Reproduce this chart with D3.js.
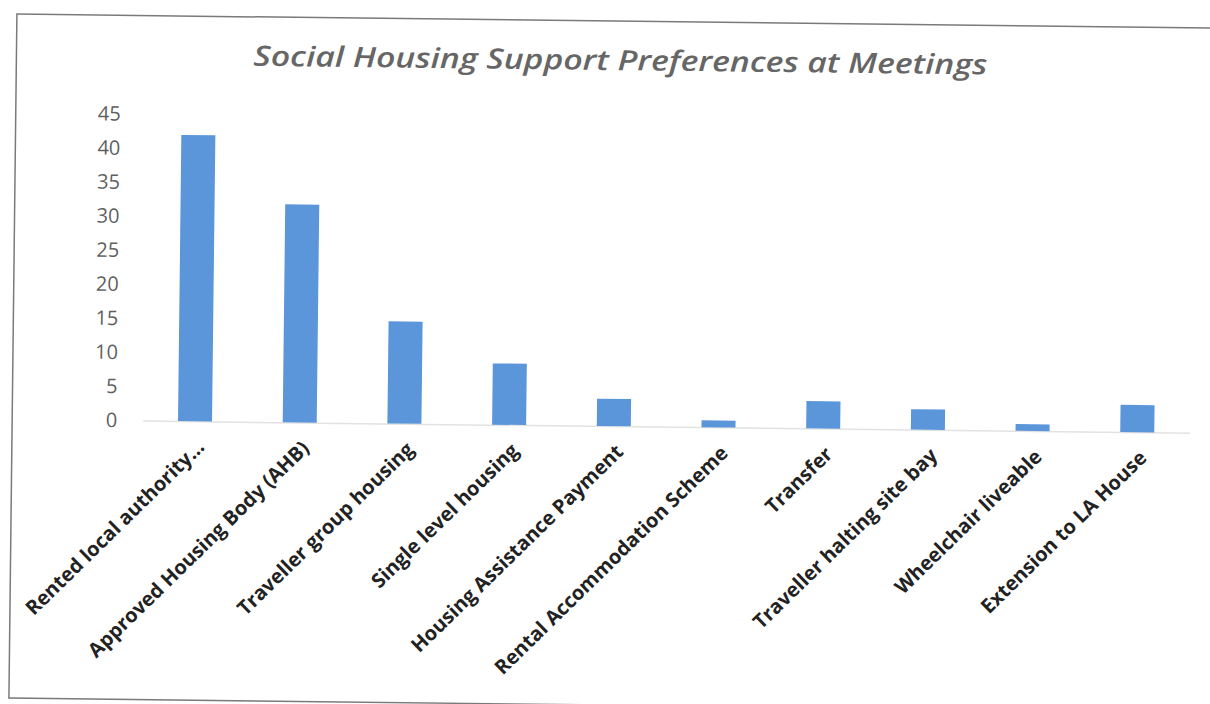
<!DOCTYPE html>
<html>
<head>
<meta charset="utf-8">
<script src="https://cdn.jsdelivr.net/npm/d3@7"></script>
<style>
  body { margin: 0; background: #fff; }
</style>
</head>
<body>
<div id="chart"></div>
<script>
const categories = ["Rented local authority...", "Approved Housing Body (AHB)", "Traveller group housing",
  "Single level housing", "Housing Assistance Payment", "Rental Accommodation Scheme", "Transfer",
  "Traveller halting site bay", "Wheelchair liveable", "Extension to LA House"];
const values = [42, 32, 15, 9, 4, 1, 4, 3, 1, 4];
const yTicks = [0, 5, 10, 15, 20, 25, 30, 35, 40, 45];
const chartTitle = "Social Housing Support Preferences at Meetings";

draw_chart();

function draw_chart() {
  const width = 1210, height = 704;

  const svg = d3.select("#chart")
    .append("svg")
    .attr("width", width)
    .attr("height", height);

  // the scanned page sits a little tilted clockwise
  const g = svg.append("g")
    .attr("transform", "rotate(0.67, 605, 352)");

  g.append("rect")
    .attr("x", 13).attr("y", 21)
    .attr("width", 1240).attr("height", 684)
    .attr("fill", "none")
    .attr("stroke", "#7a7a7a")
    .attr("stroke-width", 1.5);

  const x = d3.scaleBand()
    .domain(categories)
    .range([143.5, 1190.5])
    .paddingInner(0.675)
    .paddingOuter(0.3375);

  const y = d3.scaleLinear()
    .domain([0, 45])
    .range([426, 119.5]);

  g.append("text")
    .attr("x", 617)
    .attr("y", 70)
    .attr("text-anchor", "middle")
    .attr("textLength", 734)
    .attr("lengthAdjust", "spacingAndGlyphs")
    .style("font-family", "'Open Sans', sans-serif")
    .style("font-style", "italic")
    .style("font-weight", 600)
    .style("font-size", "28px")
    .attr("fill", "#666666")
    .text(chartTitle);

  // value axis: labels only
  const yAxis = g.append("g")
    .attr("transform", "translate(118,0)")
    .call(d3.axisLeft(y).tickValues(yTicks).tickSize(0).tickPadding(0));
  yAxis.select(".domain").remove();
  yAxis.selectAll("text")
    .style("font-family", "'Open Sans', sans-serif")
    .style("font-size", "20px")
    .attr("fill", "#5f5f5f");

  // category axis with slanted labels
  const xAxis = g.append("g")
    .attr("transform", "translate(0," + y(0) + ")")
    .call(d3.axisBottom(x).tickSize(0).tickSizeOuter(0));
  xAxis.select(".domain")
    .attr("stroke", "#e2e2e2")
    .attr("stroke-width", 1.5);
  xAxis.selectAll("text")
    .attr("y", 0)
    .attr("dy", 0)
    .attr("text-anchor", "end")
    .attr("transform", "translate(11,27) rotate(-45)")
    .style("font-family", "'Open Sans', sans-serif")
    .style("font-weight", 700)
    .style("font-size", "20px")
    .attr("fill", "#222222");

  g.append("g")
    .selectAll("rect")
    .data(values)
    .join("rect")
      .attr("x", (d, i) => x(categories[i]))
      .attr("y", d => y(d))
      .attr("width", x.bandwidth())
      .attr("height", d => y(0) - y(d))
      .attr("fill", "#5b95da");
}
</script>
</body>
</html>
